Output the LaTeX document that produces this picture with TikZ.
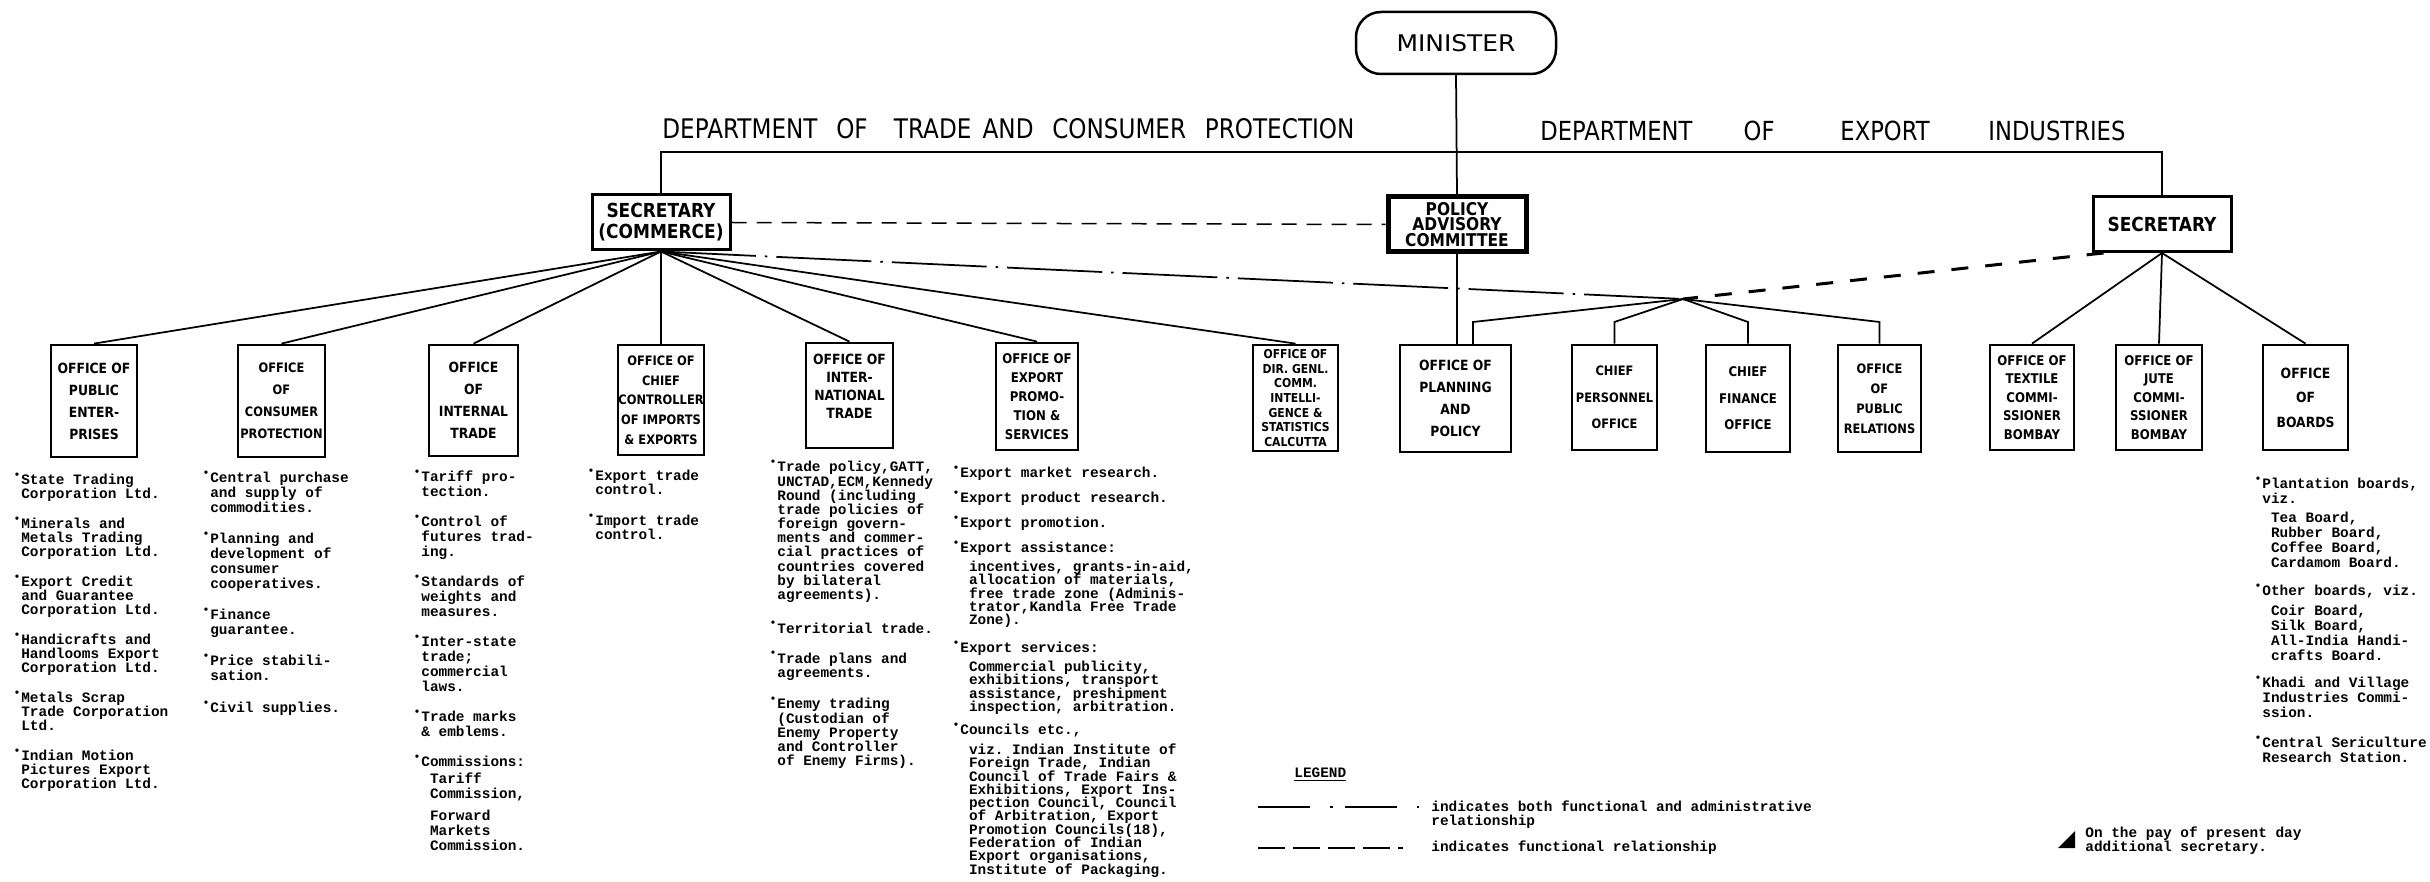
\documentclass[tikz,border=0pt]{standalone}
\usepackage{graphicx}
\usepackage{fontspec}
\setmonofont{Liberation Mono}
\newfontfamily\handfont[FakeStretch=0.88]{DejaVu Sans}
\usepackage{tikz}
\newcommand{\dutytext}[1]{\ttfamily\bfseries\fontsize{8.2}{#1}\selectfont\lineskiplimit=-20pt\lineskip=0pt}
\newcommand{\boxtext}[2]{\handfont\bfseries\fontsize{#1}{#2}\selectfont\lineskiplimit=-20pt\lineskip=0pt}
\newcommand{\bul}{\makebox[0pt][r]{\raisebox{0.42em}{\scalebox{0.8}{\textbullet}}\hspace{0.05em}}}
\newcommand{\ind}{\hspace*{0.6em}}

\begin{document}
\begin{tikzpicture}[x=0.2mm, y=-0.2mm,
    office/.style={draw, line width=0.55mm, inner sep=0pt, align=center, font=\boxtext{8}{12.5}},
    head/.style={draw, line width=0.6mm, inner sep=0pt, align=center, minimum width=27.6mm, minimum height=11mm, font=\boxtext{11}{12}},
    link/.style={line width=0.35mm},
    funcdash/.style={line width=0.3mm, dash pattern=on 3mm off 2mm},
    funcbold/.style={line width=0.6mm, dash pattern=on 3.4mm off 3.4mm},
    bothline/.style={line width=0.35mm, dash pattern=on 19mm off 1.8mm on 0.5mm off 1.8mm},
    legboth/.style={line width=0.45mm, dash pattern=on 10.4mm off 4mm on 0.6mm off 2.4mm},
    legfunc/.style={line width=0.45mm, dash pattern=on 5.4mm off 1.6mm},
    duty/.style={anchor=north west, inner sep=0pt, align=left, font=\dutytext{7.97}}]
  \useasboundingbox (0,0) rectangle (2430,882);
  % Minister and the two departments
  \node[draw, line width=0.5mm, rounded corners=5mm, minimum width=40mm, minimum height=12.4mm] (minister) at (1456,43)
    {\resizebox{23.8mm}{3.4mm}{\handfont MINISTER}};
  \node[anchor=west, inner sep=0pt] (depttrade) at (662,129)
    {\resizebox{138.4mm}{4mm}{\handfont DEPARTMENT\hspace{2.5mm}OF\hspace{3.5mm}TRADE\hspace{1.5mm}AND\hspace{2.5mm}CONSUMER\hspace{2.5mm}PROTECTION}};
  \node[anchor=west, inner sep=0pt] (deptexport) at (1540,131)
    {\resizebox{117mm}{3.9mm}{\handfont DEPARTMENT\hspace{7mm}OF\hspace{9mm}EXPORT\hspace{8mm}INDUSTRIES}};
  \node[head] (seccom) at (661,222.5) {SECRETARY\\(COMMERCE)};
  \node[head, line width=1mm, font=\boxtext{10}{9}] (pac) at (1457,224.5) {POLICY\\ADVISORY\\COMMITTEE};
  \node[head] (secexp) at (2162,224) {SECRETARY};
  % Offices
  \node[office, minimum width=17.2mm, minimum height=22.4mm] (pubent) at (94,401) {OFFICE OF\\PUBLIC\\ENTER-\\PRISES};
  \node[office, minimum width=17.4mm, minimum height=22.4mm, font=\boxtext{7.4}{12.5}] (consumer) at (281.5,401) {OFFICE\\OF\\CONSUMER\\PROTECTION};
  \node[office, minimum width=17.8mm, minimum height=22.2mm] (internal) at (473.5,400.5) {OFFICE\\OF\\INTERNAL\\TRADE};
  \node[office, minimum width=17.2mm, minimum height=22mm, font=\boxtext{7.4}{11.2}] (ccie) at (661,400) {OFFICE OF\\CHIEF\\CONTROLLER\\OF IMPORTS\\\& EXPORTS};
  \node[office, minimum width=17.4mm, minimum height=21mm, font=\boxtext{8}{10.2}] (intl) at (849.5,395.5) {OFFICE OF\\INTER-\\NATIONAL\\TRADE\\\mbox{}};
  \node[office, minimum width=16.4mm, minimum height=21.4mm, font=\boxtext{7.6}{10.8}] (exprom) at (1037,396.5) {OFFICE OF\\EXPORT\\PROMO-\\TION \&\\SERVICES};
  \node[office, minimum width=17mm, minimum height=21.2mm, font=\boxtext{7}{8.3}] (dgci) at (1295.5,398) {OFFICE OF\\DIR. GENL.\\COMM.\\INTELLI-\\GENCE \&\\STATISTICS\\CALCUTTA};
  \node[office, minimum width=22.2mm, minimum height=21.4mm] (planning) at (1455.5,398.5) {OFFICE OF\\PLANNING\\AND\\POLICY};
  \node[office, minimum width=17mm, minimum height=21mm, font=\boxtext{7.4}{15}] (personnel) at (1614.5,397.5) {CHIEF\\PERSONNEL\\OFFICE};
  \node[office, minimum width=16.8mm, minimum height=21.4mm, font=\boxtext{7.6}{15}] (finance) at (1748,398.5) {CHIEF\\FINANCE\\OFFICE};
  \node[office, minimum width=16.6mm, minimum height=21.4mm, font=\boxtext{7.4}{11.3}] (pubrel) at (1879.5,398.5) {OFFICE\\OF\\PUBLIC\\RELATIONS};
  \node[office, minimum width=16.8mm, minimum height=21mm, font=\boxtext{7.6}{10.5}] (textile) at (2032,397.5) {OFFICE OF\\TEXTILE\\COMMI-\\SSIONER\\BOMBAY};
  \node[office, minimum width=17.2mm, minimum height=21mm, font=\boxtext{7.6}{10.5}] (jute) at (2159,397.5) {OFFICE OF\\JUTE\\COMMI-\\SSIONER\\BOMBAY};
  \node[office, minimum width=17mm, minimum height=21mm, font=\boxtext{8}{14}] (boards) at (2305.5,397.5) {OFFICE\\OF\\BOARDS};
  % Lines of command
  \coordinate (bus) at (0,152);
  \coordinate (hub) at (1683,299);
  \coordinate (stub) at (0,322);
  \coordinate (planstub) at (1473,345);
  \draw[link] (minister.south) -- (pac.north);
  \draw[link] (seccom.north) |- (secexp.north |- bus) -- (secexp.north);
  \draw[funcdash] (seccom.east) -- (pac.west);
  \draw[link] (seccom.south) -- (pubent.north);
  \draw[link] (seccom.south) -- (consumer.north);
  \draw[link] (seccom.south) -- (internal.north);
  \draw[link] (seccom.south) -- (ccie.north);
  \draw[link] (seccom.south) -- (intl.north);
  \draw[link] (seccom.south) -- (exprom.north);
  \draw[link] (seccom.south) -- (dgci.north);
  \draw[bothline] (seccom.south) -- (hub);
  \draw[funcbold] ([xshift=2.4mm]secexp.south west) -- (hub);
  \draw[link] (pac.south) -- (pac.south |- planning.north);
  \draw[link] (hub) -- (planstub |- stub) -- (planstub);
  \draw[link] (hub) -- (personnel.north |- stub) -- (personnel.north);
  \draw[link] (hub) -- (finance.north |- stub) -- (finance.north);
  \draw[link] (hub) -- (pubrel.north |- stub) -- (pubrel.north);
  \draw[link] (secexp.south) -- (textile.north);
  \draw[link] (secexp.south) -- (jute.north);
  \draw[link] (secexp.south) -- (boards.north);
  % Functions of the offices
  \node[duty] (pubentduties) at (21,473)
    {\bul State Trading\\Corporation Ltd.\\[9.1pt]
     \bul Minerals and\\Metals Trading\\Corporation Ltd.\\[9.1pt]
     \bul Export Credit\\and Guarantee\\Corporation Ltd.\\[9.1pt]
     \bul Handicrafts and\\Handlooms Export\\Corporation Ltd.\\[9.1pt]
     \bul Metals Scrap\\Trade Corporation\\Ltd.\\[9.1pt]
     \bul Indian Motion\\Pictures Export\\Corporation Ltd.};
  \node[duty, font=\dutytext{8.37}] (consumerduties) at (210,471)
    {\bul Central purchase\\and supply of\\commodities.\\[9.6pt]
     \bul Planning and\\development of\\consumer\\cooperatives.\\[9.6pt]
     \bul Finance\\guarantee.\\[9.6pt]
     \bul Price stabili-\\sation.\\[9.6pt]
     \bul Civil supplies.};
  \node[duty, font=\dutytext{8.54}] (internalduties) at (421,470)
    {\bul Tariff pro-\\tection.\\[8.5pt]
     \bul Control of\\futures trad-\\ing.\\[8.5pt]
     \bul Standards of\\weights and\\measures.\\[8.5pt]
     \bul Inter-state\\trade;\\commercial\\laws.\\[8.5pt]
     \bul Trade marks\\\& emblems.\\[8.5pt]
     \bul Commissions:\\[1pt]
     \ind Tariff\\\ind Commission,\\[4pt]
     \ind Forward\\\ind Markets\\\ind Commission.};
  \node[duty] (ccieduties) at (595,469)
    {\bul Export trade\\control.\\[9.6pt]
     \bul Import trade\\control.};
  \node[duty, font=\dutytext{8.07}] (intlduties) at (777,460)
    {\bul Trade policy,GATT,\\UNCTAD,ECM,Kennedy\\Round (including\\trade policies of\\foreign govern-\\ments and commer-\\cial practices of\\countries covered\\by bilateral\\agreements).\\[11pt]
     \bul Territorial trade.\\[9pt]
     \bul Trade plans and\\agreements.\\[10pt]
     \bul Enemy trading\\(Custodian of\\Enemy Property\\and Controller\\of Enemy Firms).};
  \node[duty, font=\dutytext{7.57}] (expromduties) at (960,466)
    {\bul Export market research.\\[6.6pt]
     \bul Export product research.\\[6.6pt]
     \bul Export promotion.\\[6.6pt]
     \bul Export assistance:\\[3.2pt]
     \ind incentives, grants-in-aid,\\\ind allocation of materials,\\\ind free trade zone (Adminis-\\\ind trator,Kandla Free Trade\\\ind Zone).\\[8.3pt]
     \bul Export services:\\[3.2pt]
     \ind Commercial publicity,\\\ind exhibitions, transport\\\ind assistance, preshipment\\\ind inspection, arbitration.\\[5.5pt]
     \bul Councils etc.,\\[3.8pt]
     \ind viz. Indian Institute of\\\ind Foreign Trade, Indian\\\ind Council of Trade Fairs \&\\\ind Exhibitions, Export Ins-\\\ind pection Council, Council\\\ind of Arbitration, Export\\\ind Promotion Councils(18),\\\ind Federation of Indian\\\ind Export organisations,\\\ind Institute of Packaging.};
  \node[duty, font=\dutytext{8.54}] (boardsduties) at (2262,477)
    {\bul Plantation boards,\\viz.\\[2.3pt]
     \ind Tea Board,\\\ind Rubber Board,\\\ind Coffee Board,\\\ind Cardamom Board.\\[7.4pt]
     \bul Other boards, viz.\\[2.8pt]
     \ind Coir Board,\\\ind Silk Board,\\\ind All-India Handi-\\\ind crafts Board.\\[6.8pt]
     \bul Khadi and Village\\Industries Commi-\\ssion.\\[8.5pt]
     \bul Central Sericulture\\Research Station.};
  % Legend
  \node[anchor=west, inner sep=0pt, font=\dutytext{8}] (legendhead) at (1294,775) {\underline{LEGEND}};
  \coordinate (bothA) at (1258,807);
  \coordinate (bothB) at (1419,807);
  \draw[legboth] (bothA) -- (bothB);
  \node[duty, font=\dutytext{8.5}] (bothtext) at (1431,800) {indicates both functional and administrative\\relationship};
  \coordinate (funcA) at (1258,848);
  \coordinate (funcB) at (1403,848);
  \draw[legfunc] (funcA) -- (funcB);
  \node[duty, anchor=west] (functext) at (1431,848) {indicates functional relationship};
  % Note
  \fill (2058,848) -- (2075,831) -- (2075,848) -- cycle;
  \node[duty] (paynote) at (2085,826) {On the pay of present day\\additional secretary.};
\end{tikzpicture}
\end{document}
